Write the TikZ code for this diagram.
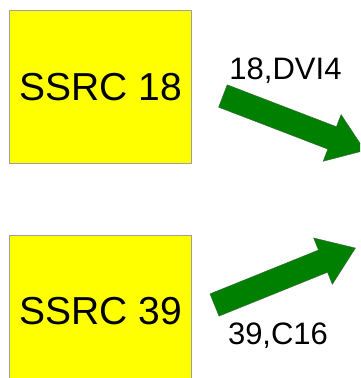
\documentclass[tikz,border=0pt]{standalone}
\usepackage{fontspec}
\setmainfont{Liberation Sans}
\definecolor{boxyellow}{RGB}{255,255,0}
\definecolor{boxline}{RGB}{160,160,160}
\definecolor{arrowgreen}{RGB}{0,128,0}
\definecolor{arrowline}{RGB}{60,100,60}
\tikzset{
  ssrcbox/.style={draw=boxline, line width=0.6pt, fill=boxyellow,
    minimum width=182pt, minimum height=152.6pt, inner sep=0pt,
    font=\fontsize{39}{40}\selectfont},
  flowlabel/.style={anchor=base, inner sep=0pt, font=\fontsize{31}{32}\selectfont},
  % block arrow: tail at origin, pointing along +x
  blockarrow/.pic={
    \filldraw[fill=arrowgreen, draw=arrowline, line width=0.4pt, line join=miter]
      (0,-12) -- (117,-12) -- (117,-25) -- (152,0) -- (117,25) -- (117,12)
      -- (0,12) -- cycle;
  }
}
\begin{document}
\begin{tikzpicture}[x=1pt, y=1pt]
  \useasboundingbox (0,0) rectangle (360,378);
  \clip (0,0) rectangle (360,378);
  \fill[white] (0,0) rectangle (360,378);

  \node[ssrcbox] (s18) at (100.6,291) {SSRC 18};
  \node[ssrcbox] (s39) at (100.6,66.7) {SSRC 39};

  \coordinate (t18) at (222.9,282);
  \coordinate (t39) at (214.5,73);
  \pic[rotate=-21] at (t18) {blockarrow};
  \pic[rotate=22] at (t39) {blockarrow};

  \node[flowlabel] (l18) at (285.5,298) {18,DVI4};
  \node[flowlabel] (l39) at (278,33) {39,C16};
\end{tikzpicture}
\end{document}
